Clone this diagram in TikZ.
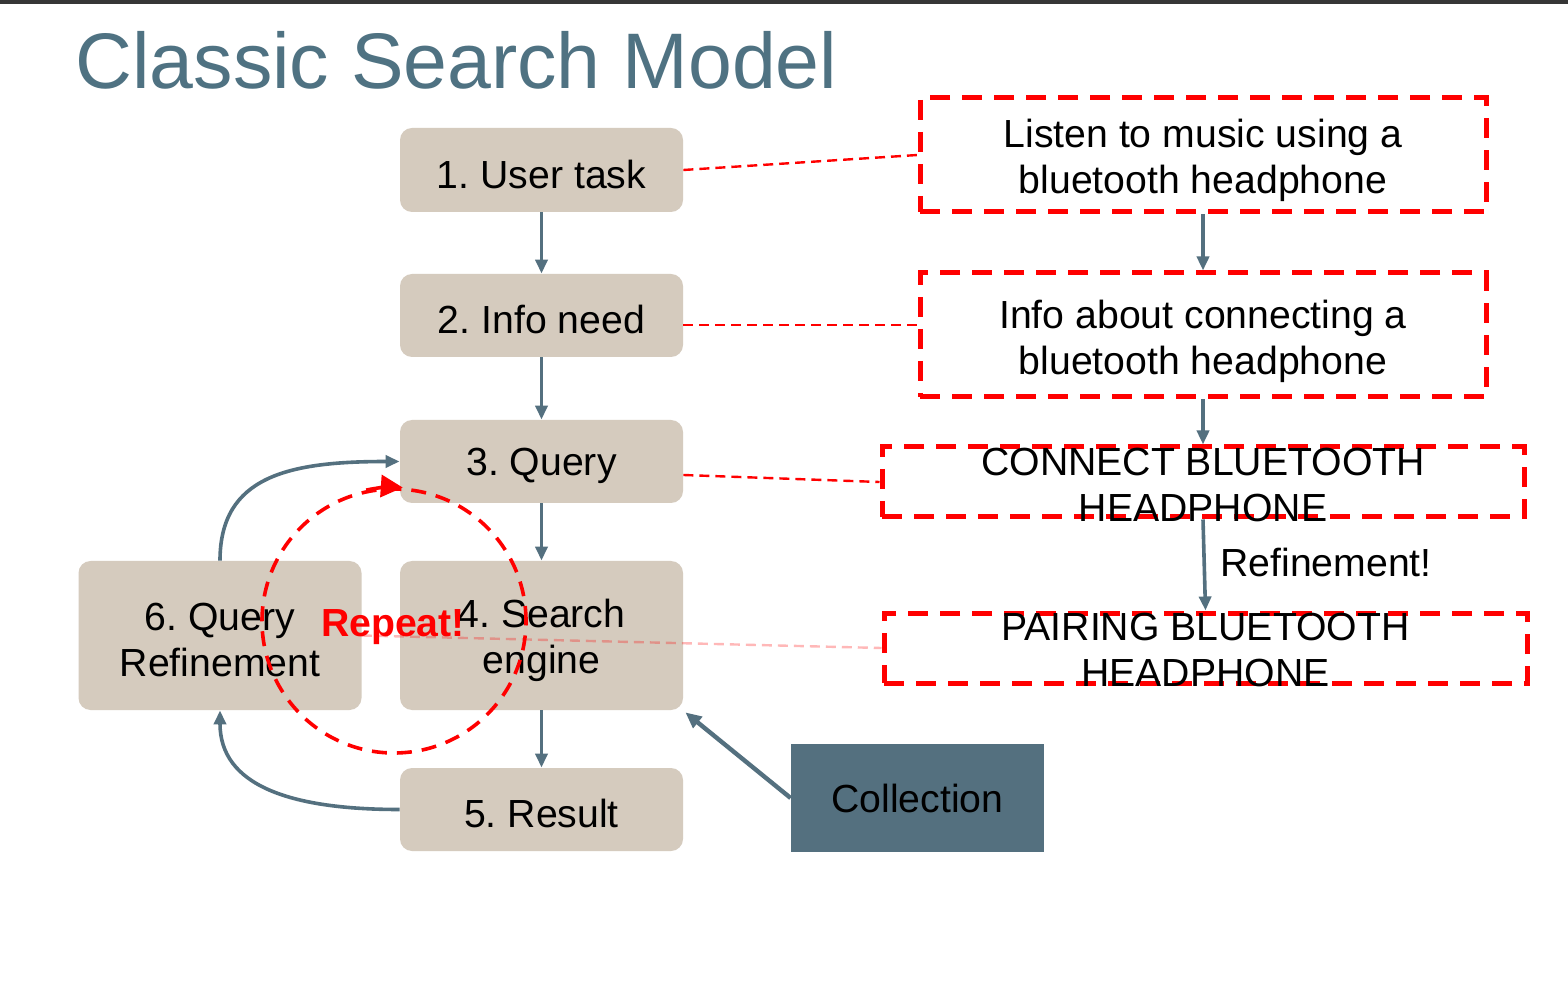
\documentclass[tikz,border=0pt]{standalone}
\usepackage{fontspec}
\setmainfont{Liberation Sans}
\usetikzlibrary{arrows.meta,calc}
\definecolor{boxfill}{HTML}{D5CBBE}
\definecolor{slate}{HTML}{54707F}
\definecolor{titlecol}{HTML}{4F7282}
\definecolor{topbar}{HTML}{363636}
\newcommand\diagfont{\fontsize{19.6}{23}\selectfont}
\frenchspacing
\begin{document}
\begin{tikzpicture}[x=0.5pt,y=-0.5pt,
  stepbox/.style={fill=boxfill, rounded corners=6pt, minimum width=141.5pt,
    inner sep=0pt},
  steptext/.style={align=center, font=\diagfont, inner sep=0pt},
  notebox/.style={draw=red, line width=2.5pt, dash pattern=on 10pt off 6pt,
    inner sep=0pt},
  notetext/.style={align=center, font=\diagfont, inner sep=0pt},
  flow/.style={draw=slate, line width=1.8pt,
    -{Triangle[length=7pt,width=6pt]}},
  link/.style={draw=red, line width=1.2pt, dash pattern=on 5pt off 3pt},
]
\useasboundingbox (0,0) rectangle (1568,999);
\fill[white] (0,0) rectangle (1568,999);
\fill[topbar] (0,0) rectangle (1568,4);

% title
\node[anchor=base west, inner sep=0pt, text=titlecol,
      font=\fontsize{39.4}{47}\selectfont] (title) at (75,89) {Classic Search Model};

% main steps
\node[stepbox, minimum height=42pt]   (n1) at (541.5,170)   {};
\node[stepbox, minimum height=41.5pt] (n2) at (541.5,315.5) {};
\node[stepbox, minimum height=41.5pt] (n3) at (541.5,461.5) {};
\node[stepbox, minimum height=74.5pt] (n4) at (541.5,635.5) {};
\node[stepbox, minimum height=41.5pt] (n5) at (541.5,809.5) {};
\node[stepbox, minimum height=74.5pt] (n6) at (220,635.5)   {};
\node[steptext] (n1t) at ($(n1)+(0,4)$) {1. User task};
\node[steptext] (n2t) at ($(n2)+(0,4)$) {2. Info need};
\node[steptext] (n3t) at ($(n3)+(0,4)$) {3. Query};
\node[steptext] (n4t) at ($(n4)+(0,5)$) {4. Search\\engine};
\node[steptext] (n5t) at ($(n5)+(0,4)$) {5. Result};
\node[steptext] (n6t) at ($(n6)+(0,5)$) {6. Query\\Refinement};
\node[fill=slate, minimum width=126.5pt, minimum height=54pt, inner sep=0pt,
      font=\diagfont] (coll) at (917.5,798) {Collection};

% example boxes
\node[notebox, minimum width=283pt,   minimum height=57pt] (r1) at (1203,155) {};
\node[notebox, minimum width=283pt,   minimum height=62pt] (r2) at (1203,335) {};
\node[notebox, minimum width=321pt,   minimum height=35pt] (r3) at (1203,482) {};
\node[notebox, minimum width=321.5pt, minimum height=35pt] (r4) at (1205.5,648) {};
\node[notetext] (t1) at ($(r1.center)+(0,5)$) {Listen to music using a\\bluetooth headphone};
\node[notetext] (t2) at ($(r2.center)+(0,6)$) {Info about connecting a\\bluetooth headphone};
\node[notetext] (t3) at ($(r3.center)+(0,3)$) {CONNECT BLUETOOTH\\HEADPHONE};
\node[notetext] (t4) at ($(r4.center)+(0,2)$) {PAIRING BLUETOOTH\\HEADPHONE};

% links from steps to examples
\draw[link] (n1.east) -- (r1.west);
\draw[link] ($(n2.east)+(0,9.5)$) -- ($(r2.west)+(0,-10)$);
\draw[link] ($(n3.east)+(0,13.5)$) -- (r3.west);
\draw[link, draw opacity=0.28] (n6.east) -- (r4.west);

% step flow
\draw[flow] (n1) -- (n2);
\draw[flow] (n2) -- (n3);
\draw[flow] (n3) -- (n4);
\draw[flow] (n4) -- (n5);
\draw[flow] (n6.north) .. controls ($(n6.north)+(0,-85)$) and ($(n3.west)+(-110,0)$) .. (n3.west);
\draw[flow] (n5.west) .. controls ($(n5.west)+(-110,0)$) and ($(n6.south)+(0,75)$) .. (n6.south);
\draw[draw=slate, line width=2.2pt, -{Triangle[length=8pt,width=7pt]}] (coll.west) -- ($(n4.south east)+(2,2)$);

% example flow
\draw[flow] (r1.south) -- (r2.north);
\draw[flow] (r2.south) -- (r3.north);
\draw[flow] (r3.south) -- (r4.north);
\node[font=\diagfont, inner sep=0pt] (lbl) at (1326,562) {Refinement!};

% repeat loop
\node[circle, draw=red, line width=1.8pt, dash pattern=on 7.5pt off 5pt,
      minimum size=132pt, inner sep=0pt] (loop) at (394,621) {};
\draw[red, line width=1.8pt, -{Triangle[length=11pt,width=11pt]}]
  (loop.102) arc[start angle=102, end angle=86, radius=66pt];
\node[text=red, font=\diagfont\bfseries, inner sep=0pt] (rep) at (393,627) {Repeat!};
\end{tikzpicture}
\end{document}
